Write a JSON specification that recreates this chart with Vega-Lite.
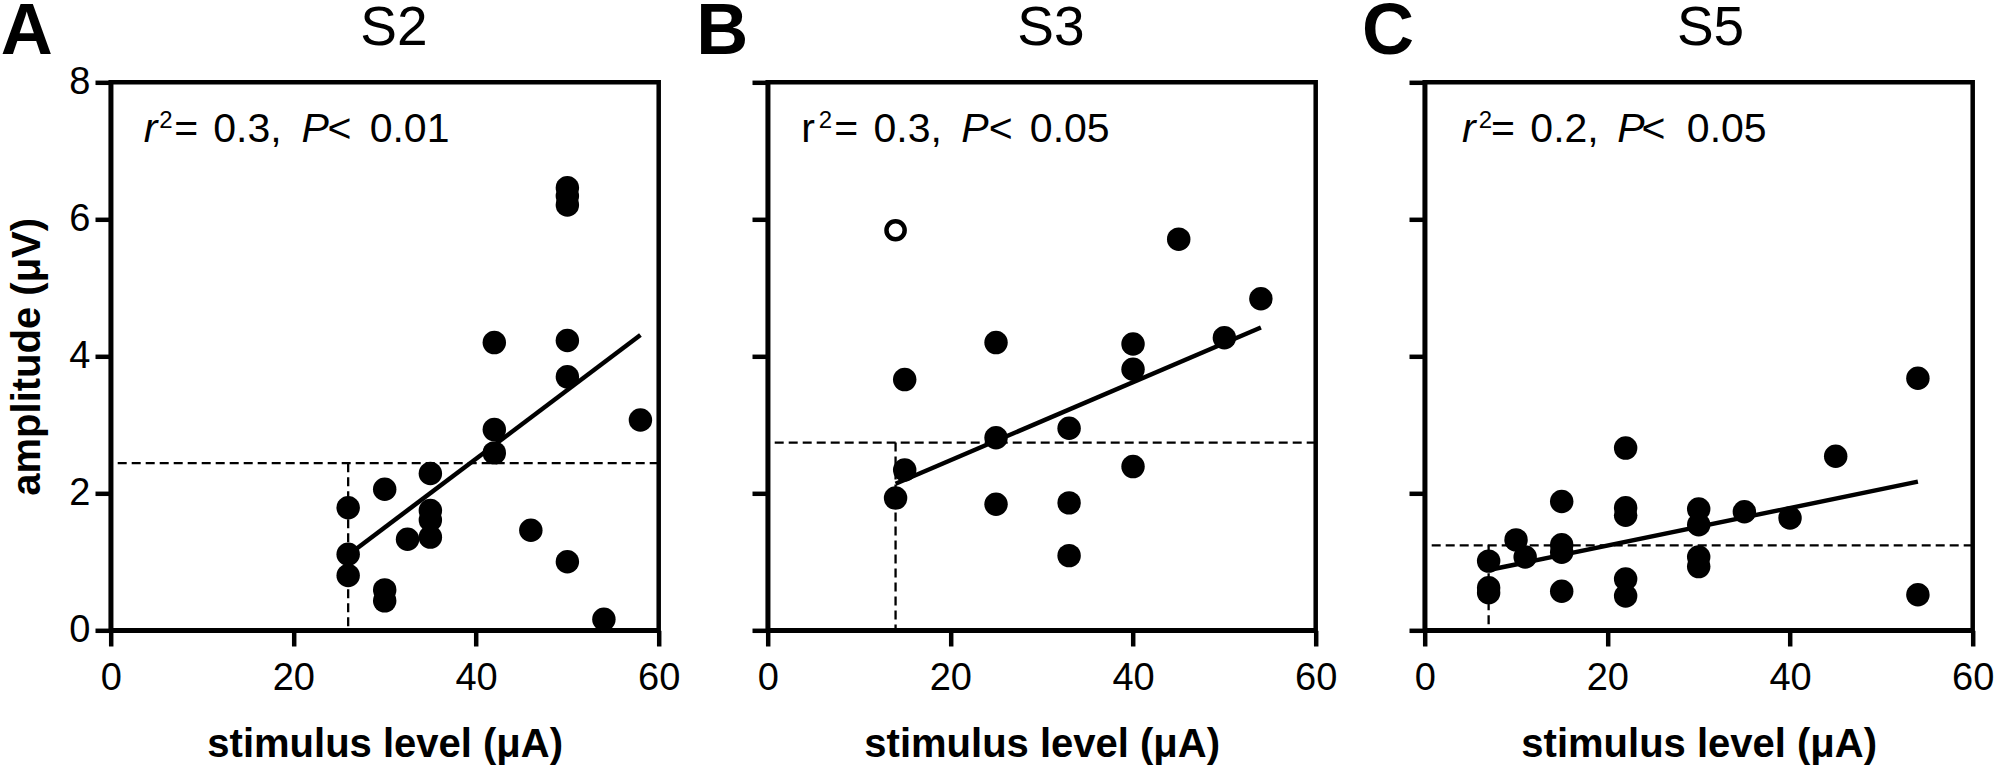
{
  "$schema": "https://vega.github.io/schema/vega-lite/v6.json",
  "background": "white",
  "autosize": {"type": "none"},
  "padding": {"left": 110.7, "top": 82.3, "right": 1883.3, "bottom": 682.7},
  "config": {
    "font": "Liberation Sans",
    "view": {"stroke": "black", "strokeWidth": 4.5},
    "axis": {
      "grid": false,
      "domainColor": "black", "domainWidth": 4.5,
      "tickColor": "black", "tickWidth": 4.5, "tickSize": 15.7,
      "labelFont": "Liberation Sans", "labelFontSize": 38, "labelColor": "black",
      "labelFlush": false, "labelOverlap": false, "format": "d",
      "titleFont": "Liberation Sans", "titleFontSize": 40, "titleFontWeight": "bold", "titleColor": "black"
    }
  },
  "datasets": {
    "pts": [
      {"panel": "A", "x": 26, "y": 1.79, "kind": "filled"},
      {"panel": "A", "x": 26, "y": 1.11, "kind": "filled"},
      {"panel": "A", "x": 26, "y": 0.80, "kind": "filled"},
      {"panel": "A", "x": 30, "y": 2.06, "kind": "filled"},
      {"panel": "A", "x": 30, "y": 0.59, "kind": "filled"},
      {"panel": "A", "x": 30, "y": 0.43, "kind": "filled"},
      {"panel": "A", "x": 32.5, "y": 1.33, "kind": "filled"},
      {"panel": "A", "x": 35, "y": 2.29, "kind": "filled"},
      {"panel": "A", "x": 35, "y": 1.75, "kind": "filled"},
      {"panel": "A", "x": 35, "y": 1.61, "kind": "filled"},
      {"panel": "A", "x": 35, "y": 1.36, "kind": "filled"},
      {"panel": "A", "x": 42, "y": 4.20, "kind": "filled"},
      {"panel": "A", "x": 42, "y": 2.93, "kind": "filled"},
      {"panel": "A", "x": 42, "y": 2.59, "kind": "filled"},
      {"panel": "A", "x": 46, "y": 1.46, "kind": "filled"},
      {"panel": "A", "x": 50, "y": 6.46, "kind": "filled"},
      {"panel": "A", "x": 50, "y": 6.34, "kind": "filled"},
      {"panel": "A", "x": 50, "y": 6.21, "kind": "filled"},
      {"panel": "A", "x": 50, "y": 4.23, "kind": "filled"},
      {"panel": "A", "x": 50, "y": 3.70, "kind": "filled"},
      {"panel": "A", "x": 50, "y": 1.00, "kind": "filled"},
      {"panel": "A", "x": 54, "y": 0.16, "kind": "filled"},
      {"panel": "A", "x": 58, "y": 3.07, "kind": "filled"},
      {"panel": "B", "x": 15, "y": 3.66, "kind": "filled"},
      {"panel": "B", "x": 15, "y": 2.34, "kind": "filled"},
      {"panel": "B", "x": 14, "y": 1.93, "kind": "filled"},
      {"panel": "B", "x": 25, "y": 4.20, "kind": "filled"},
      {"panel": "B", "x": 25, "y": 2.81, "kind": "filled"},
      {"panel": "B", "x": 25, "y": 1.84, "kind": "filled"},
      {"panel": "B", "x": 33, "y": 2.95, "kind": "filled"},
      {"panel": "B", "x": 33, "y": 1.86, "kind": "filled"},
      {"panel": "B", "x": 33, "y": 1.09, "kind": "filled"},
      {"panel": "B", "x": 40, "y": 4.18, "kind": "filled"},
      {"panel": "B", "x": 40, "y": 3.81, "kind": "filled"},
      {"panel": "B", "x": 40, "y": 2.39, "kind": "filled"},
      {"panel": "B", "x": 45, "y": 5.71, "kind": "filled"},
      {"panel": "B", "x": 50, "y": 4.27, "kind": "filled"},
      {"panel": "B", "x": 54, "y": 4.84, "kind": "filled"},
      {"panel": "B", "x": 14, "y": 5.84, "kind": "open"},
      {"panel": "C", "x": 7, "y": 1.01, "kind": "filled"},
      {"panel": "C", "x": 7, "y": 0.62, "kind": "filled"},
      {"panel": "C", "x": 7, "y": 0.55, "kind": "filled"},
      {"panel": "C", "x": 10, "y": 1.32, "kind": "filled"},
      {"panel": "C", "x": 11, "y": 1.07, "kind": "filled"},
      {"panel": "C", "x": 15, "y": 1.88, "kind": "filled"},
      {"panel": "C", "x": 15, "y": 1.25, "kind": "filled"},
      {"panel": "C", "x": 15, "y": 1.14, "kind": "filled"},
      {"panel": "C", "x": 15, "y": 0.57, "kind": "filled"},
      {"panel": "C", "x": 22, "y": 2.66, "kind": "filled"},
      {"panel": "C", "x": 22, "y": 1.79, "kind": "filled"},
      {"panel": "C", "x": 22, "y": 1.68, "kind": "filled"},
      {"panel": "C", "x": 22, "y": 0.75, "kind": "filled"},
      {"panel": "C", "x": 22, "y": 0.50, "kind": "filled"},
      {"panel": "C", "x": 30, "y": 1.77, "kind": "filled"},
      {"panel": "C", "x": 30, "y": 1.54, "kind": "filled"},
      {"panel": "C", "x": 30, "y": 1.07, "kind": "filled"},
      {"panel": "C", "x": 30, "y": 0.93, "kind": "filled"},
      {"panel": "C", "x": 35, "y": 1.73, "kind": "filled"},
      {"panel": "C", "x": 40, "y": 1.64, "kind": "filled"},
      {"panel": "C", "x": 45, "y": 2.54, "kind": "filled"},
      {"panel": "C", "x": 54, "y": 3.68, "kind": "filled"},
      {"panel": "C", "x": 54, "y": 0.52, "kind": "filled"}
    ],
    "fit": [
      {"panel": "A", "x": 26, "y": 1.10},
      {"panel": "A", "x": 58, "y": 4.31},
      {"panel": "B", "x": 14, "y": 2.14},
      {"panel": "B", "x": 54, "y": 4.42},
      {"panel": "C", "x": 7, "y": 0.88},
      {"panel": "C", "x": 54, "y": 2.17}
    ],
    "thr": [
      {"panel": "A", "tx": 26, "ty": 2.44},
      {"panel": "B", "tx": 14, "ty": 2.74},
      {"panel": "C", "tx": 7, "ty": 1.24}
    ]
  },
  "hconcat": [
    {
      "width": 548, "height": 548,
      "layer": [
        {"data": {"name": "thr"}, "transform": [{"filter": "datum.panel === 'A'"}],
         "mark": {"type": "rule", "color": "black", "strokeWidth": 2.3, "strokeDash": [9, 5]},
         "encoding": {"y": {"field": "ty", "type": "quantitative", "scale": {"domain": [0, 8]}}}},
        {"data": {"name": "thr"}, "transform": [{"filter": "datum.panel === 'A'"}],
         "mark": {"type": "rule", "color": "black", "strokeWidth": 2.3, "strokeDash": [9, 5]},
         "encoding": {"x": {"field": "tx", "type": "quantitative", "scale": {"domain": [0, 60]}},
                      "y": {"field": "ty", "type": "quantitative", "scale": {"domain": [0, 8]}},
                      "y2": {"datum": 0}}},
        {"data": {"name": "fit"}, "transform": [{"filter": "datum.panel === 'A'"}],
         "mark": {"type": "line", "color": "black", "strokeWidth": 4.5},
         "encoding": {"x": {"field": "x", "type": "quantitative", "scale": {"domain": [0, 60]}},
                      "y": {"field": "y", "type": "quantitative", "scale": {"domain": [0, 8]}}}},
        {"data": {"name": "pts"}, "transform": [{"filter": "datum.panel === 'A' && datum.kind === 'filled'"}],
         "mark": {"type": "circle", "color": "black", "opacity": 1, "size": 550},
         "encoding": {
           "x": {"field": "x", "type": "quantitative", "scale": {"domain": [0, 60]},
                 "axis": {"values": [0, 20, 40, 60], "title": "stimulus level (μA)", "labelPadding": 13, "titlePadding": 27}},
           "y": {"field": "y", "type": "quantitative", "scale": {"domain": [0, 8]},
                 "axis": {"values": [0, 2, 4, 6, 8], "title": "amplitude (μV)", "labelPadding": 5, "titlePadding": 21}}}},
        {"data": {"values": [{}]}, "mark": {"type": "text", "align": "center", "baseline": "alphabetic", "fontSize": 72, "fontWeight": "bold", "color": "black"},
         "encoding": {"x": {"datum": -9.19, "type": "quantitative"}, "y": {"datum": 8.4175, "type": "quantitative"}, "text": {"value": "A"}}},
        {"data": {"values": [{}]}, "mark": {"type": "text", "align": "center", "baseline": "alphabetic", "fontSize": 55, "color": "black"},
         "encoding": {"x": {"datum": 31.0, "type": "quantitative"}, "y": {"datum": 8.545, "type": "quantitative"}, "text": {"value": "S2"}}},
        {"data": {"values": [{}]}, "mark": {"type": "text", "align": "left", "baseline": "alphabetic", "fontSize": 41, "fontStyle": "italic", "color": "black"},
         "encoding": {"x": {"datum": 3.61, "type": "quantitative"}, "y": {"datum": 7.133, "type": "quantitative"}, "text": {"value": "r"}}},
        {"data": {"values": [{}]}, "mark": {"type": "text", "align": "left", "baseline": "alphabetic", "fontSize": 24, "color": "black"},
         "encoding": {"x": {"datum": 5.31, "type": "quantitative"}, "y": {"datum": 7.328, "type": "quantitative"}, "text": {"value": "2"}}},
        {"data": {"values": [{}]}, "mark": {"type": "text", "align": "left", "baseline": "alphabetic", "fontSize": 41, "color": "black"},
         "encoding": {"x": {"datum": 6.96, "type": "quantitative"}, "y": {"datum": 7.133, "type": "quantitative"}, "text": {"value": "="}}},
        {"data": {"values": [{}]}, "mark": {"type": "text", "align": "left", "baseline": "alphabetic", "fontSize": 41, "color": "black"},
         "encoding": {"x": {"datum": 11.23, "type": "quantitative"}, "y": {"datum": 7.133, "type": "quantitative"}, "text": {"value": "0.3,"}}},
        {"data": {"values": [{}]}, "mark": {"type": "text", "align": "left", "baseline": "alphabetic", "fontSize": 41, "fontStyle": "italic", "color": "black"},
         "encoding": {"x": {"datum": 20.9, "type": "quantitative"}, "y": {"datum": 7.133, "type": "quantitative"}, "text": {"value": "P"}}},
        {"data": {"values": [{}]}, "mark": {"type": "text", "align": "left", "baseline": "alphabetic", "fontSize": 41, "color": "black"},
         "encoding": {"x": {"datum": 23.75, "type": "quantitative"}, "y": {"datum": 7.133, "type": "quantitative"}, "text": {"value": "<"}}},
        {"data": {"values": [{}]}, "mark": {"type": "text", "align": "left", "baseline": "alphabetic", "fontSize": 41, "color": "black"},
         "encoding": {"x": {"datum": 28.35, "type": "quantitative"}, "y": {"datum": 7.133, "type": "quantitative"}, "text": {"value": "0.01"}}}
      ]
    },
    {
      "width": 548, "height": 548,
      "layer": [
        {"data": {"name": "thr"}, "transform": [{"filter": "datum.panel === 'B'"}],
         "mark": {"type": "rule", "color": "black", "strokeWidth": 2.3, "strokeDash": [9, 5]},
         "encoding": {"y": {"field": "ty", "type": "quantitative", "scale": {"domain": [0, 8]}}}},
        {"data": {"name": "thr"}, "transform": [{"filter": "datum.panel === 'B'"}],
         "mark": {"type": "rule", "color": "black", "strokeWidth": 2.3, "strokeDash": [9, 5]},
         "encoding": {"x": {"field": "tx", "type": "quantitative", "scale": {"domain": [0, 60]}},
                      "y": {"field": "ty", "type": "quantitative", "scale": {"domain": [0, 8]}},
                      "y2": {"datum": 0}}},
        {"data": {"name": "fit"}, "transform": [{"filter": "datum.panel === 'B'"}],
         "mark": {"type": "line", "color": "black", "strokeWidth": 4.5},
         "encoding": {"x": {"field": "x", "type": "quantitative", "scale": {"domain": [0, 60]}},
                      "y": {"field": "y", "type": "quantitative", "scale": {"domain": [0, 8]}}}},
        {"data": {"name": "pts"}, "transform": [{"filter": "datum.panel === 'B' && datum.kind === 'filled'"}],
         "mark": {"type": "circle", "color": "black", "opacity": 1, "size": 550},
         "encoding": {
           "x": {"field": "x", "type": "quantitative", "scale": {"domain": [0, 60]},
                 "axis": {"values": [0, 20, 40, 60], "title": "stimulus level (μA)", "labelPadding": 13, "titlePadding": 27}},
           "y": {"field": "y", "type": "quantitative", "scale": {"domain": [0, 8]},
                 "axis": {"values": [0, 2, 4, 6, 8], "labels": false, "title": null}}}},
        {"data": {"name": "pts"}, "transform": [{"filter": "datum.panel === 'B' && datum.kind === 'open'"}],
         "mark": {"type": "point", "shape": "circle", "filled": false, "color": "black", "opacity": 1, "strokeWidth": 4.5, "size": 330},
         "encoding": {
           "x": {"field": "x", "type": "quantitative", "scale": {"domain": [0, 60]}},
           "y": {"field": "y", "type": "quantitative", "scale": {"domain": [0, 8]}}}},
        {"data": {"values": [{}]}, "mark": {"type": "text", "align": "center", "baseline": "alphabetic", "fontSize": 72, "fontWeight": "bold", "color": "black"},
         "encoding": {"x": {"datum": -4.97, "type": "quantitative"}, "y": {"datum": 8.4175, "type": "quantitative"}, "text": {"value": "B"}}},
        {"data": {"values": [{}]}, "mark": {"type": "text", "align": "center", "baseline": "alphabetic", "fontSize": 55, "color": "black"},
         "encoding": {"x": {"datum": 31.0, "type": "quantitative"}, "y": {"datum": 8.545, "type": "quantitative"}, "text": {"value": "S3"}}},
        {"data": {"values": [{}]}, "mark": {"type": "text", "align": "left", "baseline": "alphabetic", "fontSize": 41, "color": "black"},
         "encoding": {"x": {"datum": 3.66, "type": "quantitative"}, "y": {"datum": 7.133, "type": "quantitative"}, "text": {"value": "r"}}},
        {"data": {"values": [{}]}, "mark": {"type": "text", "align": "left", "baseline": "alphabetic", "fontSize": 24, "color": "black"},
         "encoding": {"x": {"datum": 5.6, "type": "quantitative"}, "y": {"datum": 7.328, "type": "quantitative"}, "text": {"value": "2"}}},
        {"data": {"values": [{}]}, "mark": {"type": "text", "align": "left", "baseline": "alphabetic", "fontSize": 41, "color": "black"},
         "encoding": {"x": {"datum": 7.3, "type": "quantitative"}, "y": {"datum": 7.133, "type": "quantitative"}, "text": {"value": "="}}},
        {"data": {"values": [{}]}, "mark": {"type": "text", "align": "left", "baseline": "alphabetic", "fontSize": 41, "color": "black"},
         "encoding": {"x": {"datum": 11.58, "type": "quantitative"}, "y": {"datum": 7.133, "type": "quantitative"}, "text": {"value": "0.3,"}}},
        {"data": {"values": [{}]}, "mark": {"type": "text", "align": "left", "baseline": "alphabetic", "fontSize": 41, "fontStyle": "italic", "color": "black"},
         "encoding": {"x": {"datum": 21.18, "type": "quantitative"}, "y": {"datum": 7.133, "type": "quantitative"}, "text": {"value": "P"}}},
        {"data": {"values": [{}]}, "mark": {"type": "text", "align": "left", "baseline": "alphabetic", "fontSize": 41, "color": "black"},
         "encoding": {"x": {"datum": 24.2, "type": "quantitative"}, "y": {"datum": 7.133, "type": "quantitative"}, "text": {"value": "<"}}},
        {"data": {"values": [{}]}, "mark": {"type": "text", "align": "left", "baseline": "alphabetic", "fontSize": 41, "color": "black"},
         "encoding": {"x": {"datum": 28.7, "type": "quantitative"}, "y": {"datum": 7.133, "type": "quantitative"}, "text": {"value": "0.05"}}}
      ]
    },
    {
      "width": 548, "height": 548,
      "layer": [
        {"data": {"name": "thr"}, "transform": [{"filter": "datum.panel === 'C'"}],
         "mark": {"type": "rule", "color": "black", "strokeWidth": 2.3, "strokeDash": [9, 5]},
         "encoding": {"y": {"field": "ty", "type": "quantitative", "scale": {"domain": [0, 8]}}}},
        {"data": {"name": "thr"}, "transform": [{"filter": "datum.panel === 'C'"}],
         "mark": {"type": "rule", "color": "black", "strokeWidth": 2.3, "strokeDash": [9, 5]},
         "encoding": {"x": {"field": "tx", "type": "quantitative", "scale": {"domain": [0, 60]}},
                      "y": {"field": "ty", "type": "quantitative", "scale": {"domain": [0, 8]}},
                      "y2": {"datum": 0}}},
        {"data": {"name": "fit"}, "transform": [{"filter": "datum.panel === 'C'"}],
         "mark": {"type": "line", "color": "black", "strokeWidth": 4.5},
         "encoding": {"x": {"field": "x", "type": "quantitative", "scale": {"domain": [0, 60]}},
                      "y": {"field": "y", "type": "quantitative", "scale": {"domain": [0, 8]}}}},
        {"data": {"name": "pts"}, "transform": [{"filter": "datum.panel === 'C' && datum.kind === 'filled'"}],
         "mark": {"type": "circle", "color": "black", "opacity": 1, "size": 550},
         "encoding": {
           "x": {"field": "x", "type": "quantitative", "scale": {"domain": [0, 60]},
                 "axis": {"values": [0, 20, 40, 60], "title": "stimulus level (μA)", "labelPadding": 13, "titlePadding": 27}},
           "y": {"field": "y", "type": "quantitative", "scale": {"domain": [0, 8]},
                 "axis": {"values": [0, 2, 4, 6, 8], "labels": false, "title": null}}}},
        {"data": {"values": [{}]}, "mark": {"type": "text", "align": "center", "baseline": "alphabetic", "fontSize": 72, "fontWeight": "bold", "color": "black"},
         "encoding": {"x": {"datum": -4.03, "type": "quantitative"}, "y": {"datum": 8.4175, "type": "quantitative"}, "text": {"value": "C"}}},
        {"data": {"values": [{}]}, "mark": {"type": "text", "align": "center", "baseline": "alphabetic", "fontSize": 55, "color": "black"},
         "encoding": {"x": {"datum": 31.3, "type": "quantitative"}, "y": {"datum": 8.545, "type": "quantitative"}, "text": {"value": "S5"}}},
        {"data": {"values": [{}]}, "mark": {"type": "text", "align": "left", "baseline": "alphabetic", "fontSize": 41, "fontStyle": "italic", "color": "black"},
         "encoding": {"x": {"datum": 4.08, "type": "quantitative"}, "y": {"datum": 7.133, "type": "quantitative"}, "text": {"value": "r"}}},
        {"data": {"values": [{}]}, "mark": {"type": "text", "align": "left", "baseline": "alphabetic", "fontSize": 24, "color": "black"},
         "encoding": {"x": {"datum": 5.92, "type": "quantitative"}, "y": {"datum": 7.328, "type": "quantitative"}, "text": {"value": "2"}}},
        {"data": {"values": [{}]}, "mark": {"type": "text", "align": "left", "baseline": "alphabetic", "fontSize": 41, "color": "black"},
         "encoding": {"x": {"datum": 7.26, "type": "quantitative"}, "y": {"datum": 7.133, "type": "quantitative"}, "text": {"value": "="}}},
        {"data": {"values": [{}]}, "mark": {"type": "text", "align": "left", "baseline": "alphabetic", "fontSize": 41, "color": "black"},
         "encoding": {"x": {"datum": 11.57, "type": "quantitative"}, "y": {"datum": 7.133, "type": "quantitative"}, "text": {"value": "0.2,"}}},
        {"data": {"values": [{}]}, "mark": {"type": "text", "align": "left", "baseline": "alphabetic", "fontSize": 41, "fontStyle": "italic", "color": "black"},
         "encoding": {"x": {"datum": 21.08, "type": "quantitative"}, "y": {"datum": 7.133, "type": "quantitative"}, "text": {"value": "P"}}},
        {"data": {"values": [{}]}, "mark": {"type": "text", "align": "left", "baseline": "alphabetic", "fontSize": 41, "color": "black"},
         "encoding": {"x": {"datum": 23.73, "type": "quantitative"}, "y": {"datum": 7.133, "type": "quantitative"}, "text": {"value": "<"}}},
        {"data": {"values": [{}]}, "mark": {"type": "text", "align": "left", "baseline": "alphabetic", "fontSize": 41, "color": "black"},
         "encoding": {"x": {"datum": 28.7, "type": "quantitative"}, "y": {"datum": 7.133, "type": "quantitative"}, "text": {"value": "0.05"}}}
      ]
    }
  ],
  "spacing": 109,
  "bounds": "flush"
}
